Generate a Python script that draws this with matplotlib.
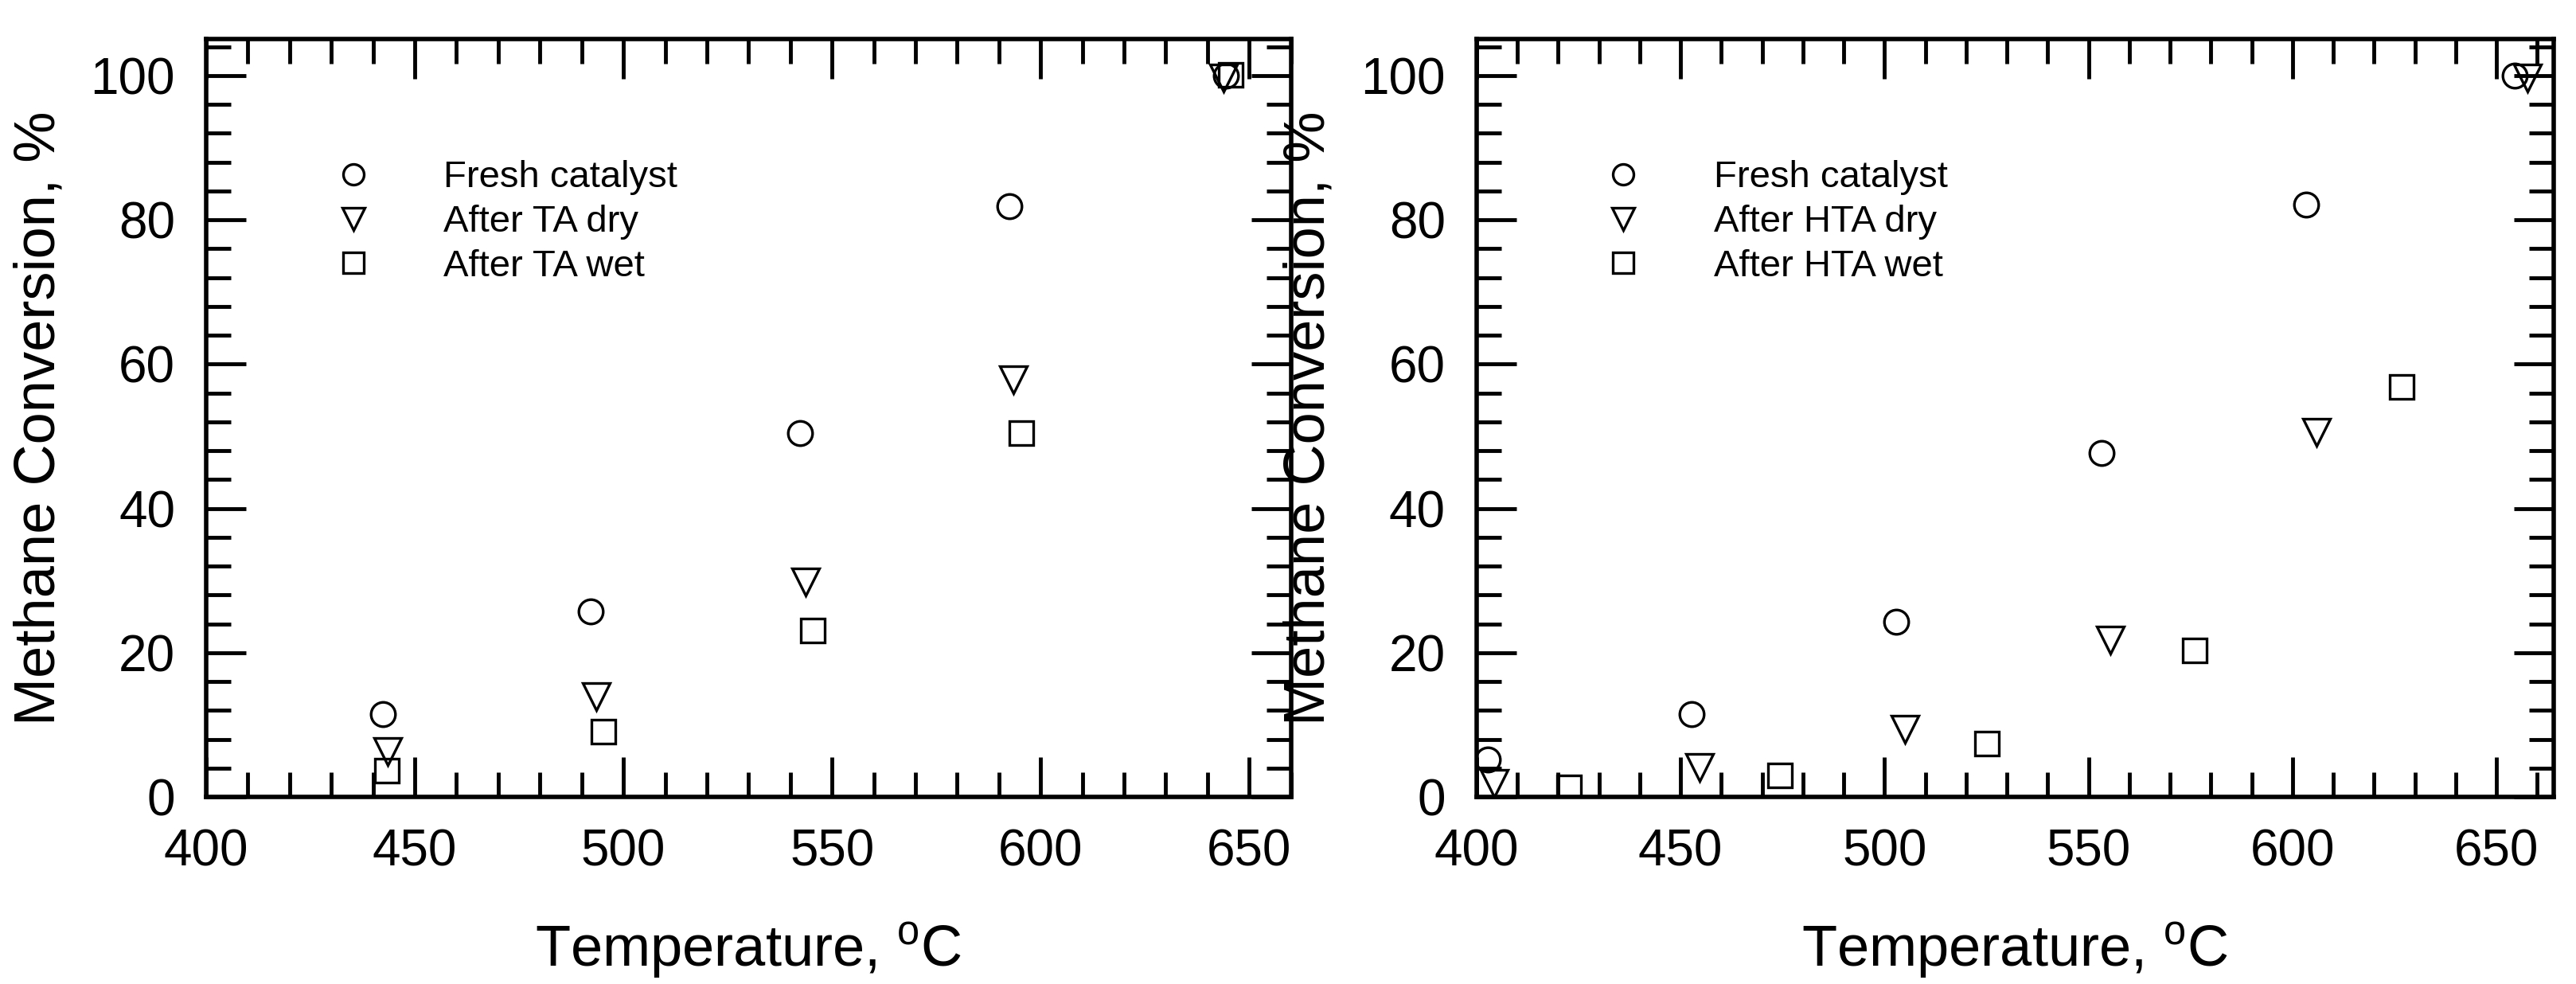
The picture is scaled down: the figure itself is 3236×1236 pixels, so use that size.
import matplotlib
matplotlib.use("Agg")
import matplotlib.pyplot as plt
from matplotlib.ticker import MultipleLocator

plt.rcParams['font.family'] = ['Liberation Sans', 'DejaVu Sans']

# Left panel (TA)
L_fresh_T = [442.4, 492.1, 542.4, 592.5, 644.5]
L_fresh_X = [11.5, 25.7, 50.4, 81.9, 100.0]
L_dry_T = [443.6, 493.5, 543.6, 593.5, 643.8]
L_dry_X = [6.3, 13.9, 29.8, 57.8, 99.6]
L_wet_T = [443.4, 495.2, 545.3, 595.4, 645.5]
L_wet_X = [3.7, 9.1, 23.1, 50.4, 100.1]
L_labels = ["Fresh catalyst", "After TA dry", "After TA wet"]

# Right panel (HTA)
R_fresh_T = [402.8, 452.7, 502.9, 553.2, 603.4, 654.4]
R_fresh_X = [5.2, 11.5, 24.3, 47.7, 82.1, 100.0]
R_dry_T = [404.3, 454.7, 505.1, 555.3, 605.8, 657.5]
R_dry_X = [1.9, 4.1, 9.4, 21.7, 50.5, 99.6]
R_wet_T = [422.7, 474.3, 525.1, 576.1, 626.7]
R_wet_X = [1.3, 3.0, 7.4, 20.3, 56.8]
R_labels = ["Fresh catalyst", "After HTA dry", "After HTA wet"]

fig = plt.figure(figsize=(32.37, 12.36), dpi=100)
axL = fig.add_axes([0.080, 0.190, 0.421, 0.770])
axR = fig.add_axes([0.573, 0.190, 0.418, 0.770])

def draw(ax, series, labels, xmax):
    mk = ['o', 'v', 's']
    for (t, x), m, lab in zip(series, mk, labels):
        ax.plot(t, x, linestyle='none', marker=m, markersize=22 if m != 'v' else 24,
                markerfacecolor='none', markeredgecolor='black', markeredgewidth=2.4, label=lab)
    ax.set_xlim(400, xmax)
    ax.set_ylim(0, 105)
    ax.xaxis.set_major_locator(MultipleLocator(50))
    ax.xaxis.set_minor_locator(MultipleLocator(10))
    ax.yaxis.set_major_locator(MultipleLocator(20))
    ax.yaxis.set_minor_locator(MultipleLocator(4))
    ax.tick_params(which='both', direction='in', top=True, right=True, width=3.5, labelsize=46, pad=28)
    ax.tick_params(which='major', length=36)
    ax.tick_params(which='minor', length=22)
    for s in ax.spines.values():
        s.set_linewidth(4)
    ax.set_xlabel("Temperature, $^{\\mathregular{o}}$C", fontsize=52, labelpad=40)
    ax.set_ylabel("Methane Conversion, %", fontsize=52, labelpad=22)
    ax.legend(loc='upper left', bbox_to_anchor=(0.07, 0.885), frameon=False, fontsize=34,
              handletextpad=1.4, labelspacing=0.25, markerscale=0.85)

draw(axL, [(L_fresh_T, L_fresh_X), (L_dry_T, L_dry_X), (L_wet_T, L_wet_X)], L_labels, 660)
draw(axR, [(R_fresh_T, R_fresh_X), (R_dry_T, R_dry_X), (R_wet_T, R_wet_X)], R_labels, 664)

fig.savefig("out.png", dpi=100)
